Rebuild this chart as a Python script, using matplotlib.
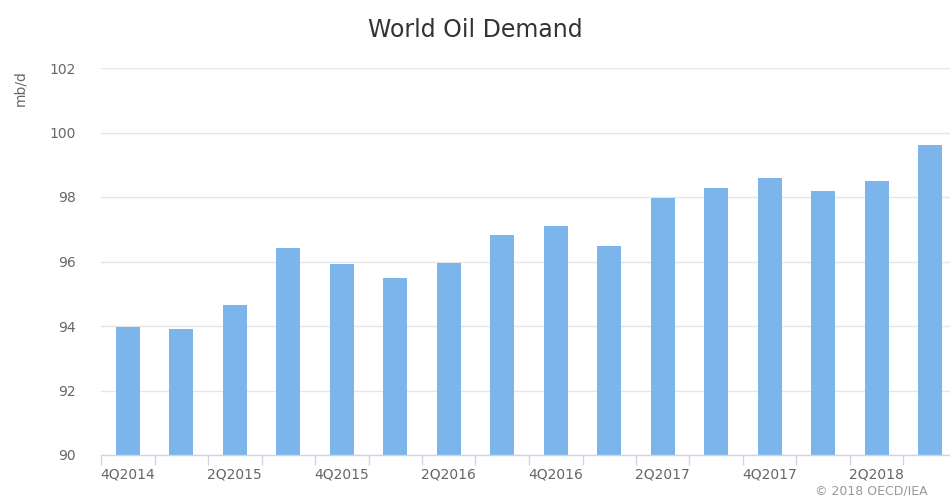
import numpy as np
import matplotlib
matplotlib.use("Agg")
import matplotlib.pyplot as plt

# --- Data ---
quarters = ["4Q2014", "1Q2015", "2Q2015", "3Q2015", "4Q2015", "1Q2016", "2Q2016", "3Q2016",
            "4Q2016", "1Q2017", "2Q2017", "3Q2017", "4Q2017", "1Q2018", "2Q2018", "3Q2018"]
demand = [93.96, 93.91, 94.65, 96.41, 95.93, 95.50, 95.96, 96.83,
          97.09, 96.47, 97.96, 98.28, 98.59, 98.18, 98.49, 99.60]
y_ticks = [90, 92, 94, 96, 98, 100, 102]

bar_color = "#7cb5ec"
grid_color = "#e6e6e6"
axis_color = "#ccd6eb"
label_color = "#666666"

fig = plt.figure(figsize=(9.5, 4.96), dpi=100)
# plot area: x from 101px to ~957px (slightly clipped on the right), y from 68px to 455px
ax = fig.add_axes([101 / 950, 1 - 455 / 496, 856 / 950, (455 - 68) / 496])

x = np.arange(len(quarters))
ax.bar(x, np.array(demand) - 90, bottom=90, width=0.45, color=bar_color, zorder=3)

ax.set_xlim(-0.5, len(quarters) - 0.5)
ax.set_ylim(90, 102)
ax.set_yticks(y_ticks)
ax.set_yticklabels([str(v) for v in y_ticks])
ax.grid(axis="y", color=grid_color, linewidth=1, zorder=0)

# category boundary ticks, labels every second quarter
ax.set_xticks(np.arange(len(quarters) + 1) - 0.5, minor=True)
ax.set_xticks(x[::2])
ax.set_xticklabels(quarters[::2])
ax.tick_params(axis="x", which="major", length=0, pad=9, labelsize=10, labelcolor=label_color)
ax.tick_params(axis="x", which="minor", length=7, width=1, color=axis_color)
ax.tick_params(axis="y", length=0, pad=18, labelsize=10, labelcolor=label_color)

for side in ["top", "right", "left"]:
    ax.spines[side].set_visible(False)
ax.spines["bottom"].set_color(axis_color)
ax.spines["bottom"].set_linewidth(1)
ax.spines["bottom"].set_zorder(4)

fig.text(475 / 950, 1 - 30 / 496, "World Oil Demand", ha="center", va="center",
         fontsize=17, color="#333333")
fig.text(20 / 950, 1 - 88 / 496, "mb/d", rotation=90, ha="center", va="center",
         fontsize=10, color=label_color)
fig.text(815 / 950, 1 - 491 / 496, "\u00a9 2018 OECD/IEA", ha="left", va="center",
         fontsize=9, color="#999999")

fig.savefig("out.png", dpi=100)
